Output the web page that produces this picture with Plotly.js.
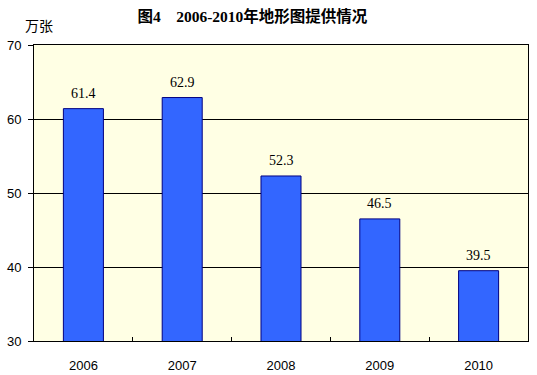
<!DOCTYPE html>
<html><head><meta charset="utf-8">
<script src="https://cdn.plot.ly/plotly-3.0.1.min.js"></script>
<style>html,body{margin:0;padding:0;background:#fff}</style>
</head><body>
<div id="chart" style="width:537px;height:375px"></div>
<script>
var years = ['2006', '2007', '2008', '2009', '2010'];
var values = [61.4, 62.9, 52.3, 46.5, 39.5];
var yTicks = [30, 40, 50, 60, 70];

var trace = {
  type: 'bar',
  x: years,
  y: values,
  marker: {color: '#3366FF', line: {color: '#000080', width: 1}},
  hoverinfo: 'skip'
};

var annotations = years.map(function (c, i) {
  return {
    x: i, y: values[i], xref: 'x', yref: 'y',
    text: values[i].toFixed(1), showarrow: false,
    yanchor: 'bottom', yshift: 6,
    font: {family: 'Liberation Serif, Times New Roman, serif', size: 14, color: '#000'}
  };
});
annotations.push({
  xref: 'paper', yref: 'paper', x: -0.022, y: 1, yanchor: 'bottom', xanchor: 'left', yshift: 8,
  text: '万张', showarrow: false,
  font: {family: 'Noto Sans CJK SC, sans-serif', size: 14, color: '#000'}
});

var layout = {
  width: 537, height: 375,
  margin: {l: 34, r: 9, t: 45, b: 34},
  paper_bgcolor: '#ffffff',
  plot_bgcolor: '#FFFFE4',
  showlegend: false,
  bargap: 0.595,
  title: {
    text: '<b>图4　2006-2010年地形图提供情况</b>',
    xref: 'container', x: 0.47, xanchor: 'center', yref: 'container', y: 0.957, yanchor: 'middle',
    font: {family: 'Liberation Serif, Noto Sans CJK SC, serif', size: 15.5, color: '#000'}
  },
  xaxis: {
    type: 'category',
    categoryorder: 'array', categoryarray: years,
    range: [-0.5, 4.5], autorange: false,
    showline: true, linecolor: '#000', linewidth: 1, mirror: true,
    ticks: 'inside', tickson: 'boundaries', ticklen: 4, tickcolor: '#000',
    showgrid: false,
    ticklabelstandoff: 12,
    tickfont: {family: 'Liberation Sans, Arial, sans-serif', size: 13, color: '#000'}
  },
  yaxis: {
    range: [30, 70], autorange: false, tickvals: yTicks,
    showline: true, linecolor: '#000', linewidth: 1, mirror: true,
    ticks: 'outside', ticklen: 5, tickcolor: '#000',
    showgrid: true, gridcolor: '#000', gridwidth: 1,
    zeroline: false,
    ticklabelstandoff: 4,
    tickfont: {family: 'Liberation Sans, Arial, sans-serif', size: 13, color: '#000'}
  },
  annotations: annotations
};

Plotly.newPlot('chart', [trace], layout, {displayModeBar: false, staticPlot: true});
</script>
</body></html>
